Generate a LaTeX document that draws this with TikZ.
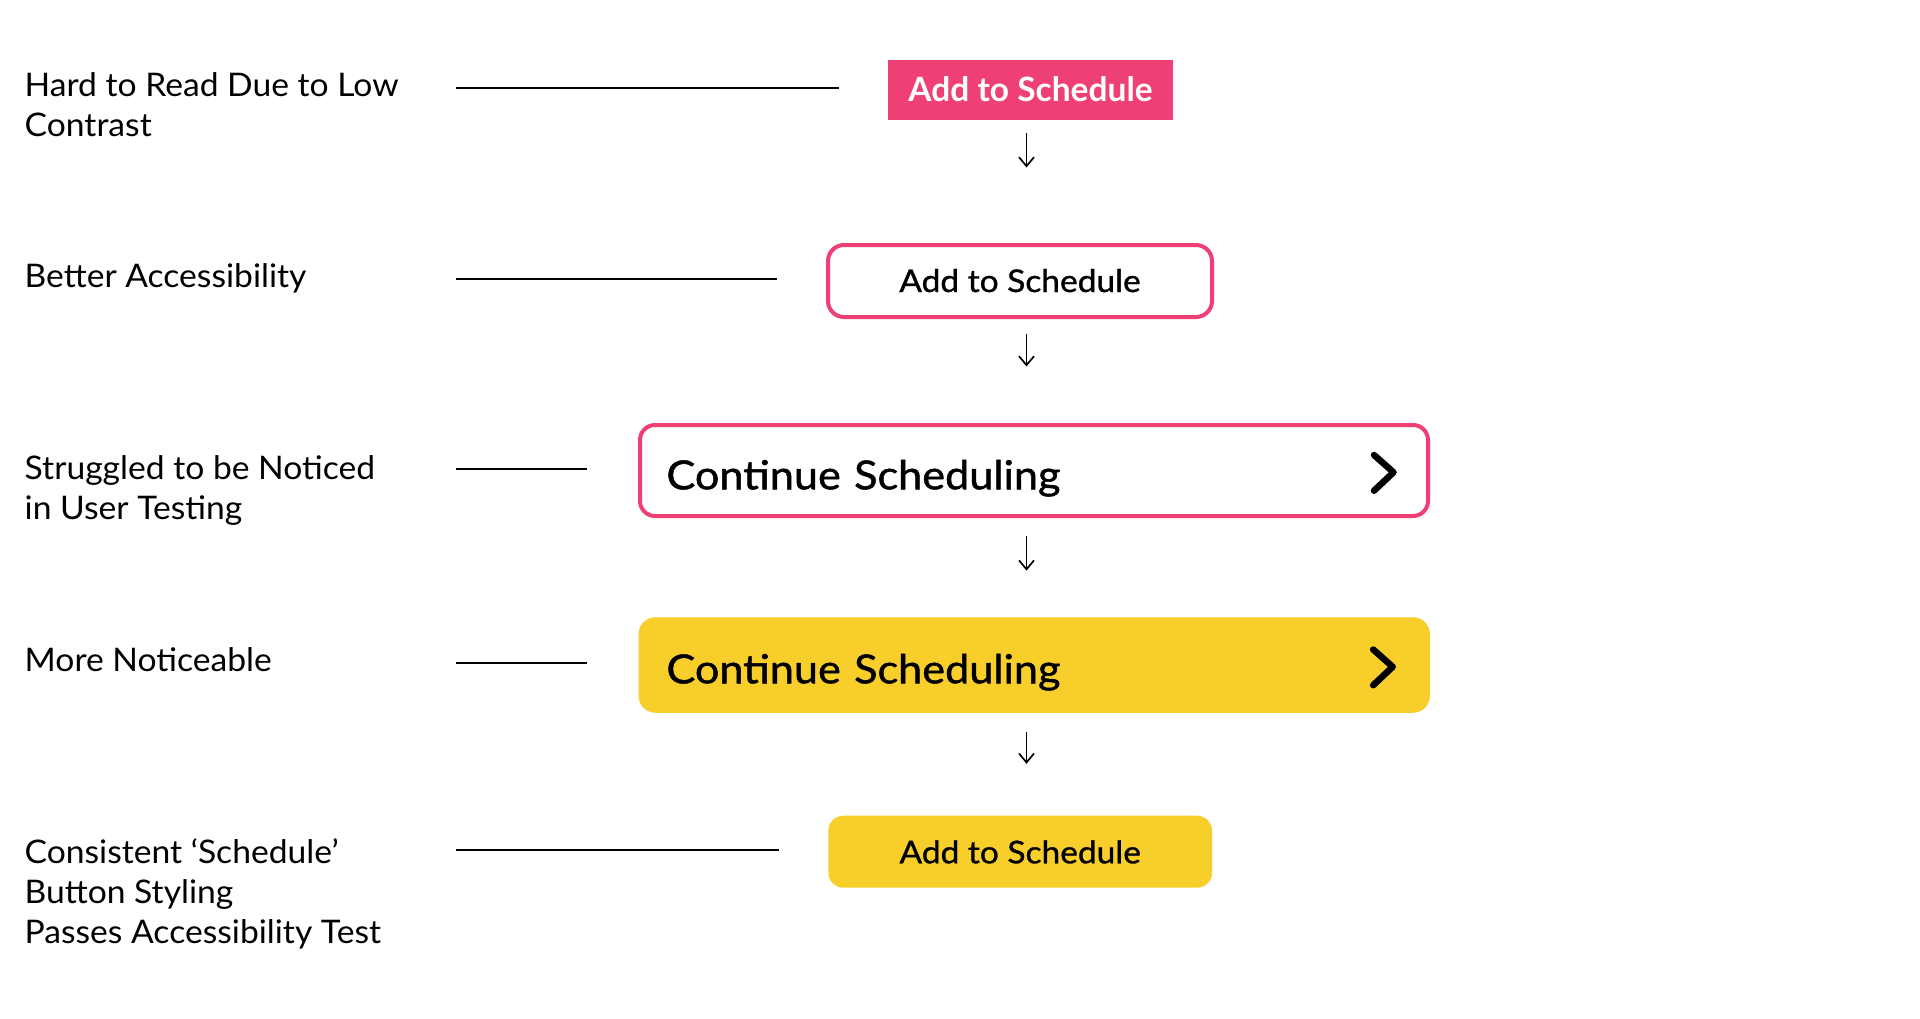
\documentclass[tikz,border=0pt]{standalone}
\usepackage{fontspec}
\setmainfont{Lato}
\newfontfamily\lblfont{Lato}[FakeStretch=1.035]
\newfontfamily\btnfont{Lato}[FakeStretch=1.07, FakeBold=1.0]
\newfontfamily\bigfont{Lato}[FakeStretch=1.08, FakeBold=1.2]
\usetikzlibrary{arrows.meta,calc}
\definecolor{pinkc}{HTML}{EF4075}
\definecolor{yellowc}{HTML}{F8CE2B}
\begin{document}
\begin{tikzpicture}[x=1pt,y=-1pt,
  lbl/.style={anchor=base west, inner sep=0pt, align=left, font=\lblfont\fontsize{32.5}{40}\selectfont},
  lead/.style={line width=2pt, black},
  flow/.style={line width=1.7pt, -{Straight Barb[length=9pt,width=15pt,line width=1.7pt]}},
  chev/.style={line width=6.5pt, line cap=round, line join=round},
  smallbtn/.style={inner sep=0pt, text height=#1, text depth=0pt, font=\btnfont\fontsize{31.3}{38}\selectfont},
  bigbtn/.style={inner ysep=0pt, text depth=0pt, align=left, font=\bigfont\fontsize{40}{48}\selectfont},
]
\useasboundingbox[fill=white] (0,0) rectangle (1920,1018);

% labels (anchored at the baseline of their last line)
\node[lbl] (l1) at (24.5,136) {Hard to Read Due to Low\\Contrast};
\node[lbl] (l2) at (24.5,287) {Better Accessibility};
\node[lbl] (l3) at (24.5,519.5) {Struggled to be Noticed\\in User Testing};
\node[lbl] (l4) at (24.5,671.5) {More Noticeable};
\node[lbl] (l5) at (24.5,943) {Consistent ‘Schedule’\\Button Styling\\Passes Accessibility Test};

% buttons
\node[inner sep=0pt, text height=22.5pt, text depth=0pt, fill=pinkc, text=white, minimum width=285pt, minimum height=59.5pt,
  font=\fontsize{33.5}{38}\selectfont\bfseries] (b1) at (1030.5,89.75) {Add to Schedule};
\node[smallbtn=22pt, draw=pinkc, line width=4pt, rounded corners=16pt, minimum width=384pt, minimum height=72pt] (b2) at (1020,281) {Add to Schedule};
\node[bigbtn, draw=pinkc, line width=4pt, rounded corners=15pt, text height=37.6pt, text width=735pt, inner xsep=26.5pt, minimum height=91pt] (b3) at (1034,470.5) {Continue Scheduling};
\node[bigbtn, fill=yellowc, rounded corners=17pt, text height=36.6pt, text width=735.5pt, inner xsep=28pt, minimum height=95.5pt] (b4) at (1034.25,665) {Continue Scheduling};
\node[smallbtn=23.2pt, fill=yellowc, rounded corners=15pt, minimum width=383.7pt, minimum height=72pt] (b5) at (1020.2,851.7) {Add to Schedule};

% chevrons
\draw[chev] ($(b3.east)+(-56,-15.5)$) -- ($(b3.east)+(-36.5,1.8)$) -- ($(b3.east)+(-56,20.2)$);
\draw[chev] ($(b4.east)+(-57,-15.5)$) -- ($(b4.east)+(-37.5,1.8)$) -- ($(b4.east)+(-57,20.2)$);

% leader lines
\coordinate (lx) at (456,0);
\draw[lead] ($(lx |- b1.west)+(0,-2)$) -- ($(b1.west)+(-49,-2)$);
\draw[lead] ($(lx |- b2.west)+(0,-2)$) -- ($(b2.west)+(-49,-2)$);
\draw[lead] ($(lx |- b3.west)+(0,-2)$) -- ($(b3.west)+(-51,-2)$);
\draw[lead] ($(lx |- b4.west)+(0,-2)$) -- ($(b4.west)+(-51,-2)$);
\draw[lead] ($(lx |- b5.west)+(0,-2)$) -- ($(b5.west)+(-49,-2)$);

% flow arrows
\coordinate (ax) at (1026.5,0);
\draw[flow, shorten <=13.5pt, shorten >=75.5pt] (ax |- b1.south) -- (ax |- b2.north);
\draw[flow, shorten <=15pt, shorten >=56.5pt] (ax |- b2.south) -- (ax |- b3.north);
\draw[flow, shorten <=18pt, shorten >=46.4pt] (ax |- b3.south) -- (ax |- b4.north);
\draw[flow, shorten <=19pt, shorten >=51.7pt] (ax |- b4.south) -- (ax |- b5.north);
\end{tikzpicture}
\end{document}
